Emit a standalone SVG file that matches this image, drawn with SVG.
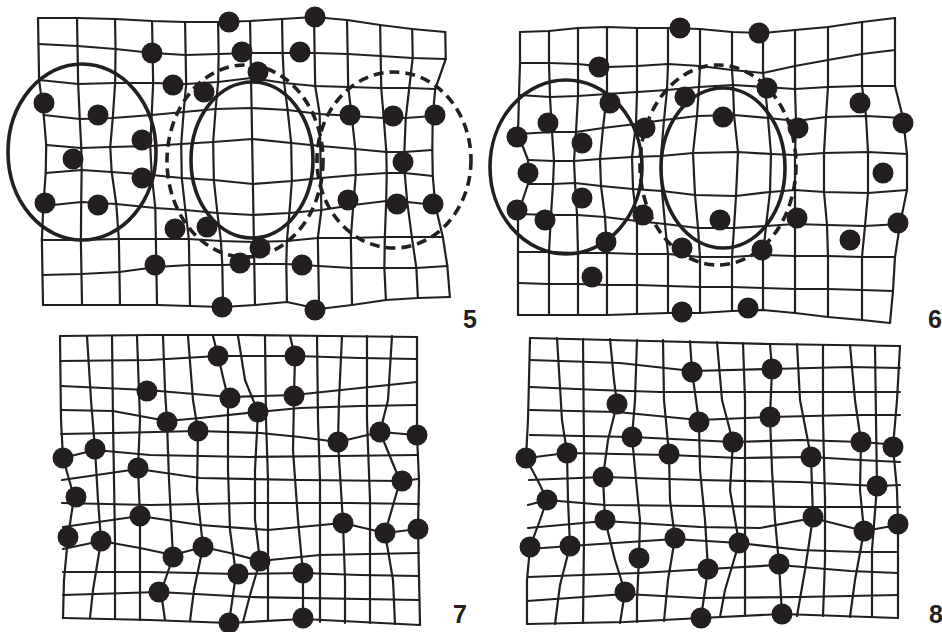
<svg xmlns="http://www.w3.org/2000/svg" width="942" height="632" viewBox="0 0 942 632">
<style>
.g polyline{fill:none;stroke:#231f20;stroke-width:2.2;stroke-linejoin:round;stroke-linecap:round}
.ring{fill:none;stroke:#231f20;stroke-width:3.6}
.dash{stroke-dasharray:10 6}
.dot circle{fill:#231f20}
.lbl{font-family:"Liberation Sans",Arial,sans-serif;font-weight:bold;font-size:25px;fill:#231f20}
</style>
<rect width="942" height="632" fill="#ffffff"/>

<g id="panel5">
<g class="g" transform="matrix(1 0 0.0174 1 -0.3 0)">
<polyline points="38,18 77,18 115,19 152,21 185,22 218,22 250,21 282,19 314,17 347,20 380,25 412,29 445,32"/>
<polyline points="38,44 77,46 115,49 152,53 185,55 218,54 250,53 282,53 314,53 347,54 380,56 412,58 445,59"/>
<polyline points="38,80 77,84 114,83 152,83 185,84 217,82 250,78 283,83 314,86 347,87 380,88 408,88 434,89"/>
<polyline points="42,115 78,119 111,118 150,115 182,112 214,109 250,108 286,110 318,114 350,116 382,118 404,118 431,116"/>
<polyline points="44,145 79,148 108,147 148,146 179,144 211,142 250,139 289,143 318,146 353,149 384,152 402,152 430,150"/>
<polyline points="43,173 79,170 109,172 149,175 179,178 211,180 250,184 289,181 318,178 353,175 384,173 402,173 430,176"/>
<polyline points="40,206 78,202 113,204 152,208 182,210 214,213 250,215 286,213 318,210 350,205 383,201 404,202 432,205"/>
<polyline points="38,240 77,240 115,239 152,239 185,239 217,241 250,242 283,241 314,238 347,238 381,237 408,237 439,237"/>
<polyline points="38,275 77,274 115,272 152,267 185,265 218,265 250,264 282,264 314,266 347,268 380,268 412,268 443,266"/>
<polyline points="38,305 77,305 115,305 152,305 185,306 218,307 250,305 282,302 314,309 347,305 381,300 413,298 445,297"/>
<polyline points="38,18 38,44 38,80 42,115 44,145 43,173 40,206 38,240 38,275 38,305"/>
<polyline points="77,18 77,46 77,84 78,119 79,148 79,170 78,202 77,240 77,274 77,305"/>
<polyline points="115,19 115,49 114,83 111,118 108,147 109,172 113,204 115,239 115,272 115,305"/>
<polyline points="152,21 152,53 152,83 150,115 148,146 149,175 152,208 152,239 152,267 152,305"/>
<polyline points="185,22 185,55 185,84 182,112 179,144 179,178 182,210 185,239 185,265 185,306"/>
<polyline points="218,22 218,54 217,82 214,109 211,142 211,180 214,213 217,241 218,265 218,307"/>
<polyline points="250,21 250,53 250,78 250,108 250,139 250,184 250,215 250,242 250,264 250,305"/>
<polyline points="282,19 282,53 283,83 286,110 289,143 289,181 286,213 283,241 282,264 282,302"/>
<polyline points="314,17 314,53 314,86 318,114 318,146 318,178 318,210 314,238 314,266 314,309"/>
<polyline points="347,20 347,54 347,87 350,116 353,149 353,175 350,205 347,238 347,268 347,305"/>
<polyline points="380,25 380,56 380,88 382,118 384,152 384,173 383,201 381,237 380,268 381,300"/>
<polyline points="412,29 412,58 408,88 404,118 402,152 402,173 404,202 408,237 412,268 413,298"/>
<polyline points="445,32 445,59 434,89 431,116 430,150 430,176 432,205 439,237 443,266 445,297"/>
</g>
<ellipse class="ring" cx="82" cy="152" rx="74" ry="88"/>
<ellipse class="ring" cx="252" cy="160" rx="61" ry="78"/>
<ellipse class="ring dash" cx="245" cy="161" rx="78" ry="96"/>
<ellipse class="ring dash" cx="394" cy="160" rx="77" ry="88"/>
<g class="dot">
<circle cx="229" cy="22" r="10.5"/><circle cx="315" cy="17" r="10.5"/>
<circle cx="152" cy="53" r="10.5"/><circle cx="242" cy="52" r="10.5"/><circle cx="300" cy="52" r="10.5"/>
<circle cx="258" cy="72" r="10.5"/><circle cx="173" cy="85" r="10.5"/><circle cx="204" cy="92" r="10.5"/>
<circle cx="44" cy="103" r="10.5"/><circle cx="98" cy="115" r="10.5"/>
<circle cx="350" cy="115" r="10.5"/><circle cx="393" cy="116" r="10.5"/><circle cx="435" cy="115" r="10.5"/>
<circle cx="142" cy="140" r="10.5"/><circle cx="73" cy="159" r="10.5"/><circle cx="403" cy="162" r="10.5"/>
<circle cx="142" cy="178" r="10.5"/><circle cx="45" cy="203" r="10.5"/><circle cx="98" cy="205" r="10.5"/>
<circle cx="348" cy="200" r="10.5"/><circle cx="397" cy="204" r="10.5"/><circle cx="433" cy="204" r="10.5"/>
<circle cx="175" cy="229" r="10.5"/><circle cx="207" cy="227" r="10.5"/><circle cx="260" cy="248" r="10.5"/>
<circle cx="240" cy="263" r="10.5"/><circle cx="302" cy="265" r="10.5"/><circle cx="155" cy="265" r="10.5"/>
<circle cx="222" cy="307" r="10.5"/><circle cx="315" cy="310" r="10.5"/>
</g>
<text class="lbl" x="463" y="328">5</text>
</g>

<g id="panel6">
<g class="g">
<polyline points="520,32 549,31 578,28 607,27 637,28 668,28 700,29 732,32 763,33 795,30 828,27 862,22 895,18"/>
<polyline points="520,63 549,63 578,64 607,67 637,66 668,64 700,66 732,70 763,73 795,66 828,60 862,54 895,50"/>
<polyline points="519,95 550,97 578,96 607,94 637,92 667,90 699,87 733,85 765,87 795,89 828,87 862,86 895,86"/>
<polyline points="518,134 552,132 576,132 603,128 636,124 664,120 697,116 734,115 768,118 796,121 826,117 866,116 903,118"/>
<polyline points="528,160 554,161 574,161 600,159 632,157 661,156 693,153 738,152 771,154 795,155 824,153 868,152 907,154"/>
<polyline points="528,184 553,184 575,183 601,186 633,189 662,191 695,195 736,196 770,192 795,190 824,192 868,193 907,190"/>
<polyline points="518,214 551,215 577,215 605,217 637,221 665,224 698,228 734,228 766,226 795,224 827,225 865,226 900,224"/>
<polyline points="518,252 549,252 578,253 607,253 637,254 668,254 700,257 732,257 763,255 795,256 828,256 862,257 895,257"/>
<polyline points="518,283 549,284 578,284 607,285 637,285 668,286 700,287 732,287 763,288 795,289 828,289 862,290 893,291"/>
<polyline points="518,315 549,315 578,315 607,315 637,314 668,313 700,313 732,311 763,310 795,313 828,317 862,320 890,323"/>
<polyline points="520,32 520,63 519,95 518,134 528,160 528,184 518,214 518,252 518,283 518,315"/>
<polyline points="549,31 549,63 550,97 552,132 554,161 553,184 551,215 549,252 549,284 549,315"/>
<polyline points="578,28 578,64 578,96 576,132 574,161 575,183 577,215 578,253 578,284 578,315"/>
<polyline points="607,27 607,67 607,94 603,128 600,159 601,186 605,217 607,253 607,285 607,315"/>
<polyline points="637,28 637,66 637,92 636,124 632,157 633,189 637,221 637,254 637,285 637,314"/>
<polyline points="668,28 668,64 667,90 664,120 661,156 662,191 665,224 668,254 668,286 668,313"/>
<polyline points="700,29 700,66 699,87 697,116 693,153 695,195 698,228 700,257 700,287 700,313"/>
<polyline points="732,32 732,70 733,85 734,115 738,152 736,196 734,228 732,257 732,287 732,311"/>
<polyline points="763,33 763,73 765,87 768,118 771,154 770,192 766,226 763,255 763,288 763,310"/>
<polyline points="795,30 795,66 795,89 796,121 795,155 795,190 795,224 795,256 795,289 795,313"/>
<polyline points="828,27 828,60 828,87 826,117 824,153 824,192 827,225 828,256 828,289 828,317"/>
<polyline points="862,22 862,54 862,86 866,116 868,152 868,193 865,226 862,257 862,290 862,320"/>
<polyline points="895,18 895,50 895,86 903,118 907,154 907,190 900,224 895,257 893,291 890,323"/>
</g>
<ellipse class="ring" cx="566" cy="167" rx="76" ry="87"/>
<ellipse class="ring" cx="723" cy="168" rx="62" ry="80"/>
<ellipse class="ring dash" cx="718" cy="165" rx="78" ry="100"/>
<g class="dot">
<circle cx="680" cy="28" r="10.5"/><circle cx="759" cy="33" r="10.5"/><circle cx="599" cy="67" r="10.5"/>
<circle cx="685" cy="97" r="10.5"/><circle cx="767" cy="88" r="10.5"/><circle cx="610" cy="103" r="10.5"/>
<circle cx="723" cy="117" r="10.5"/><circle cx="860" cy="103" r="10.5"/><circle cx="548" cy="123" r="10.5"/>
<circle cx="517" cy="137" r="10.5"/><circle cx="645" cy="128" r="10.5"/><circle cx="798" cy="128" r="10.5"/>
<circle cx="903" cy="123" r="10.5"/><circle cx="582" cy="143" r="10.5"/><circle cx="528" cy="173" r="10.5"/>
<circle cx="883" cy="173" r="10.5"/><circle cx="582" cy="198" r="10.5"/><circle cx="517" cy="210" r="10.5"/>
<circle cx="545" cy="220" r="10.5"/><circle cx="643" cy="215" r="10.5"/><circle cx="720" cy="220" r="10.5"/>
<circle cx="797" cy="218" r="10.5"/><circle cx="898" cy="223" r="10.5"/><circle cx="606" cy="242" r="10.5"/>
<circle cx="850" cy="240" r="10.5"/><circle cx="682" cy="248" r="10.5"/><circle cx="762" cy="250" r="10.5"/>
<circle cx="592" cy="277" r="10.5"/><circle cx="682" cy="312" r="10.5"/><circle cx="748" cy="308" r="10.5"/>
</g>
<text class="lbl" x="928" y="328">6</text>
</g>

<g id="panel7">
<g class="g">
<polyline points="60,336 150,335 240,335 330,336 417,337"/>
<polyline points="60,361 150,360 218,356 295,356 360,358 417,359"/>
<polyline points="61,386 147,390 230,397 294,395 360,388 417,382"/>
<polyline points="61,410 113,411 167,421 200,418 258,412 300,408 360,406 417,405"/>
<polyline points="61,434 113,433 198,431 260,433 300,437 338,442 380,432 417,435"/>
<polyline points="63,458 95,450 150,455 250,457 338,456 417,455"/>
<polyline points="62,480 138,469 200,478 300,480 402,481 418,479"/>
<polyline points="62,503 150,505 250,503 350,503 419,504"/>
<polyline points="63,527 140,516 200,525 268,530 343,523 385,533 418,529"/>
<polyline points="63,549 101,541 140,548 173,555 203,547 230,553 260,561 320,555 419,553"/>
<polyline points="63,572 150,572 238,574 303,573 360,575 419,576"/>
<polyline points="63,595 159,592 250,597 419,600"/>
<polyline points="63,618 150,620 229,623 303,619 420,625"/>
<polyline points="60,336 61,420 63,458 74,497 68,537 64,580 63,618"/>
<polyline points="87,336 91,400 95,449 98,500 101,541 93,590 90,618"/>
<polyline points="112,336 113,420 114,480 115,540 115,619"/>
<polyline points="137,336 140,420 138,468 140,516 140,570 140,620"/>
<polyline points="163,336 165,390 167,422 169,480 173,557 161,592 165,620"/>
<polyline points="188,336 193,400 198,431 197,490 203,547 194,590 190,621"/>
<polyline points="213,336 218,356 228,398 228,470 230,530 236,574 229,623"/>
<polyline points="238,336 245,380 258,412 255,470 255,520 260,561 250,595 243,622"/>
<polyline points="265,336 266,420 268,480 268,540 268,621"/>
<polyline points="290,336 295,356 294,396 293,450 298,520 303,573 303,620"/>
<polyline points="317,336 318,420 320,480 320,560 320,622"/>
<polyline points="342,336 339,400 338,442 341,490 343,523 345,580 345,623"/>
<polyline points="367,336 367,420 370,500 370,623"/>
<polyline points="392,336 388,400 380,432 400,481 385,533 393,580 395,624"/>
<polyline points="417,337 417,435 419,480 418,529 420,625"/>
</g>
<g class="dot">
<circle cx="218" cy="356" r="10.5"/><circle cx="295" cy="356" r="10.5"/><circle cx="147" cy="391" r="10.5"/>
<circle cx="230" cy="398" r="10.5"/><circle cx="294" cy="396" r="10.5"/><circle cx="258" cy="412" r="10.5"/>
<circle cx="167" cy="422" r="10.5"/><circle cx="198" cy="431" r="10.5"/><circle cx="380" cy="432" r="10.5"/>
<circle cx="417" cy="435" r="10.5"/><circle cx="338" cy="442" r="10.5"/><circle cx="63" cy="458" r="10.5"/>
<circle cx="95" cy="449" r="10.5"/><circle cx="138" cy="468" r="10.5"/><circle cx="402" cy="481" r="10.5"/>
<circle cx="76" cy="497" r="10.5"/><circle cx="140" cy="516" r="10.5"/><circle cx="343" cy="523" r="10.5"/>
<circle cx="68" cy="537" r="10.5"/><circle cx="101" cy="541" r="10.5"/><circle cx="385" cy="533" r="10.5"/>
<circle cx="418" cy="529" r="10.5"/><circle cx="203" cy="547" r="10.5"/><circle cx="173" cy="557" r="10.5"/>
<circle cx="260" cy="561" r="10.5"/><circle cx="238" cy="574" r="10.5"/><circle cx="303" cy="573" r="10.5"/>
<circle cx="159" cy="592" r="10.5"/><circle cx="229" cy="623" r="10.5"/><circle cx="303" cy="618" r="10.5"/>
</g>
<text class="lbl" x="453" y="623">7</text>
</g>

<g id="panel8">
<g class="g">
<polyline points="530,338 650,341 770,344 900,346"/>
<polyline points="530,360 620,363 692,371 772,369 850,367 900,368"/>
<polyline points="530,387 600,390 660,392 770,392 900,392"/>
<polyline points="530,410 617,412 699,420 770,417 850,415 900,415"/>
<polyline points="530,435 632,437 733,442 800,440 861,442 899,445"/>
<polyline points="527,458 567,453 669,455 740,458 811,457 860,460 900,462"/>
<polyline points="529,480 603,477 700,480 800,482 877,486 900,485"/>
<polyline points="528,505 547,500 605,505 700,506 800,507 900,507"/>
<polyline points="528,528 605,521 700,527 760,528 813,518 864,531 898,525"/>
<polyline points="529,549 570,546 675,539 739,543 800,550 860,552 898,552"/>
<polyline points="528,577 639,573 708,569 779,565 850,571 898,573"/>
<polyline points="527,601 625,594 700,598 800,597 898,595"/>
<polyline points="527,624 625,622 701,618 782,614 898,618"/>
<polyline points="530,338 528,420 526,458 540,485 547,500 540,520 530,547 527,580 527,624"/>
<polyline points="557,338 562,420 567,453 568,500 570,546 560,585 555,624"/>
<polyline points="583,339 584,450 584,540 583,623"/>
<polyline points="610,339 614,380 617,404 608,440 603,477 605,520 615,560 625,592 620,623"/>
<polyline points="637,340 635,400 632,437 636,480 640,520 639,558 637,600 637,622"/>
<polyline points="663,340 664,400 669,454 670,500 675,538 668,580 664,621"/>
<polyline points="690,341 692,371 699,422 700,470 705,520 708,569 701,618"/>
<polyline points="717,342 722,400 733,442 730,490 739,543 725,590 720,617"/>
<polyline points="743,343 745,400 745,480 745,560 745,616"/>
<polyline points="770,344 772,369 770,417 772,470 775,520 779,564 782,614"/>
<polyline points="797,344 800,400 811,457 813,517 805,570 797,616"/>
<polyline points="823,345 823,420 825,500 825,560 823,616"/>
<polyline points="850,345 855,400 861,442 860,490 864,531 855,580 850,617"/>
<polyline points="875,346 876,420 877,486 872,550 872,617"/>
<polyline points="900,346 897,400 893,447 897,490 898,524 898,560 898,618"/>
</g>
<g class="dot">
<circle cx="692" cy="372" r="10.5"/><circle cx="772" cy="369" r="10.5"/><circle cx="617" cy="404" r="10.5"/>
<circle cx="699" cy="422" r="10.5"/><circle cx="770" cy="417" r="10.5"/><circle cx="632" cy="437" r="10.5"/>
<circle cx="733" cy="442" r="10.5"/><circle cx="526" cy="458" r="10.5"/><circle cx="567" cy="453" r="10.5"/>
<circle cx="669" cy="454" r="10.5"/><circle cx="811" cy="457" r="10.5"/><circle cx="861" cy="442" r="10.5"/>
<circle cx="893" cy="447" r="10.5"/><circle cx="603" cy="477" r="10.5"/><circle cx="877" cy="486" r="10.5"/>
<circle cx="547" cy="500" r="10.5"/><circle cx="605" cy="520" r="10.5"/><circle cx="813" cy="517" r="10.5"/>
<circle cx="530" cy="547" r="10.5"/><circle cx="570" cy="546" r="10.5"/><circle cx="675" cy="538" r="10.5"/>
<circle cx="739" cy="543" r="10.5"/><circle cx="864" cy="531" r="10.5"/><circle cx="898" cy="524" r="10.5"/>
<circle cx="639" cy="558" r="10.5"/><circle cx="708" cy="569" r="10.5"/><circle cx="779" cy="564" r="10.5"/>
<circle cx="625" cy="592" r="10.5"/><circle cx="701" cy="618" r="10.5"/><circle cx="782" cy="614" r="10.5"/>
</g>
<text class="lbl" x="929" y="623">8</text>
</g>
</svg>
